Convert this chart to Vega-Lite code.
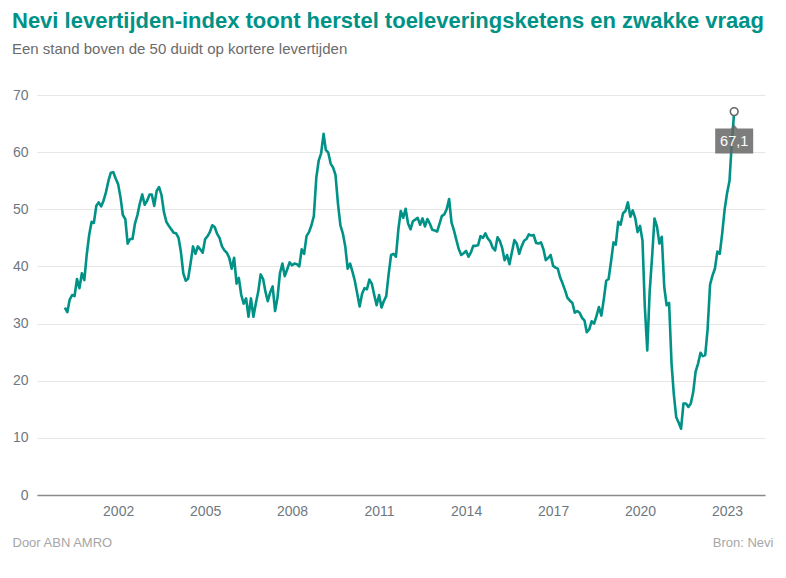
{
"$schema": "https://vega.github.io/schema/vega-lite/v6.json",
"autosize": {"type": "none"},
"width": 728,
"height": 400,
"padding": {"left": 37, "top": 95, "right": 21, "bottom": 83},
"background": "white",
"config": {
  "view": {"stroke": null},
  "font": "Liberation Sans",
  "locale": {"number": {"decimal": ",", "thousands": ".", "grouping": [3], "currency": ["€", ""]}}
},
"title": {
  "text": "Nevi levertijden-index toont herstel toeleveringsketens en zwakke vraag",
  "subtitle": "Een stand boven de 50 duidt op kortere levertijden",
  "anchor": "start",
  "frame": "group",
  "dx": -25,
  "offset": 30,
  "color": "#009286",
  "font": "Liberation Sans",
  "fontSize": 22,
  "fontWeight": "bold",
  "subtitleFont": "Liberation Sans",
  "subtitleColor": "#6b6b6b",
  "subtitleFontSize": 15,
  "subtitlePadding": 9
},
"data": {"values": [
{"date":"2000-03-01","value":32.8},{"date":"2000-04-01","value":32.0},{"date":"2000-05-01","value":34.2},{"date":"2000-06-01","value":35.0},{"date":"2000-07-01","value":34.8},{"date":"2000-08-01","value":37.8},{"date":"2000-09-01","value":36.2},{"date":"2000-10-01","value":38.8},{"date":"2000-11-01","value":37.6},{"date":"2000-12-01","value":42.0},
{"date":"2001-01-01","value":45.5},{"date":"2001-02-01","value":47.8},{"date":"2001-03-01","value":47.6},{"date":"2001-04-01","value":50.6},{"date":"2001-05-01","value":51.2},{"date":"2001-06-01","value":50.5},{"date":"2001-07-01","value":51.5},{"date":"2001-08-01","value":53.0},{"date":"2001-09-01","value":55.0},{"date":"2001-10-01","value":56.4},{"date":"2001-11-01","value":56.5},{"date":"2001-12-01","value":55.4},
{"date":"2002-01-01","value":54.4},{"date":"2002-02-01","value":52.0},{"date":"2002-03-01","value":49.0},{"date":"2002-04-01","value":48.3},{"date":"2002-05-01","value":44.0},{"date":"2002-06-01","value":44.8},{"date":"2002-07-01","value":44.8},{"date":"2002-08-01","value":47.5},{"date":"2002-09-01","value":49.0},{"date":"2002-10-01","value":51.0},{"date":"2002-11-01","value":52.6},{"date":"2002-12-01","value":50.8},
{"date":"2003-01-01","value":51.5},{"date":"2003-02-01","value":52.6},{"date":"2003-03-01","value":52.6},{"date":"2003-04-01","value":50.6},{"date":"2003-05-01","value":53.2},{"date":"2003-06-01","value":53.9},{"date":"2003-07-01","value":52.5},{"date":"2003-08-01","value":49.5},{"date":"2003-09-01","value":47.8},{"date":"2003-10-01","value":47.1},{"date":"2003-11-01","value":46.5},{"date":"2003-12-01","value":45.9},
{"date":"2004-01-01","value":45.8},{"date":"2004-02-01","value":45.0},{"date":"2004-03-01","value":42.6},{"date":"2004-04-01","value":38.8},{"date":"2004-05-01","value":37.5},{"date":"2004-06-01","value":37.9},{"date":"2004-07-01","value":40.5},{"date":"2004-08-01","value":43.5},{"date":"2004-09-01","value":42.2},{"date":"2004-10-01","value":43.5},{"date":"2004-11-01","value":43.0},{"date":"2004-12-01","value":42.4},
{"date":"2005-01-01","value":44.8},{"date":"2005-02-01","value":45.3},{"date":"2005-03-01","value":46.0},{"date":"2005-04-01","value":47.2},{"date":"2005-05-01","value":46.9},{"date":"2005-06-01","value":45.7},{"date":"2005-07-01","value":45.0},{"date":"2005-08-01","value":43.5},{"date":"2005-09-01","value":42.8},{"date":"2005-10-01","value":42.4},{"date":"2005-11-01","value":41.5},{"date":"2005-12-01","value":39.6},
{"date":"2006-01-01","value":41.5},{"date":"2006-02-01","value":37.0},{"date":"2006-03-01","value":38.0},{"date":"2006-04-01","value":35.0},{"date":"2006-05-01","value":33.5},{"date":"2006-06-01","value":34.4},{"date":"2006-07-01","value":31.2},{"date":"2006-08-01","value":34.4},{"date":"2006-09-01","value":31.2},{"date":"2006-10-01","value":33.5},{"date":"2006-11-01","value":35.6},{"date":"2006-12-01","value":38.6},
{"date":"2007-01-01","value":37.8},{"date":"2007-02-01","value":35.5},{"date":"2007-03-01","value":33.9},{"date":"2007-04-01","value":35.5},{"date":"2007-05-01","value":36.5},{"date":"2007-06-01","value":32.2},{"date":"2007-07-01","value":34.5},{"date":"2007-08-01","value":38.8},{"date":"2007-09-01","value":40.5},{"date":"2007-10-01","value":38.3},{"date":"2007-11-01","value":39.5},{"date":"2007-12-01","value":40.7},
{"date":"2008-01-01","value":40.2},{"date":"2008-02-01","value":40.5},{"date":"2008-03-01","value":40.4},{"date":"2008-04-01","value":40.0},{"date":"2008-05-01","value":43.0},{"date":"2008-06-01","value":42.2},{"date":"2008-07-01","value":45.3},{"date":"2008-08-01","value":46.0},{"date":"2008-09-01","value":47.2},{"date":"2008-10-01","value":48.8},{"date":"2008-11-01","value":55.5},{"date":"2008-12-01","value":58.5},
{"date":"2009-01-01","value":59.8},{"date":"2009-02-01","value":63.2},{"date":"2009-03-01","value":60.4},{"date":"2009-04-01","value":59.9},{"date":"2009-05-01","value":58.0},{"date":"2009-06-01","value":57.3},{"date":"2009-07-01","value":56.0},{"date":"2009-08-01","value":51.0},{"date":"2009-09-01","value":47.2},{"date":"2009-10-01","value":45.8},{"date":"2009-11-01","value":43.5},{"date":"2009-12-01","value":39.6},
{"date":"2010-01-01","value":40.5},{"date":"2010-02-01","value":39.0},{"date":"2010-03-01","value":37.5},{"date":"2010-04-01","value":35.2},{"date":"2010-05-01","value":33.0},{"date":"2010-06-01","value":35.2},{"date":"2010-07-01","value":36.2},{"date":"2010-08-01","value":36.0},{"date":"2010-09-01","value":37.7},{"date":"2010-10-01","value":37.0},{"date":"2010-11-01","value":35.0},{"date":"2010-12-01","value":33.2},
{"date":"2011-01-01","value":35.0},{"date":"2011-02-01","value":32.8},{"date":"2011-03-01","value":33.9},{"date":"2011-04-01","value":34.8},{"date":"2011-05-01","value":38.6},{"date":"2011-06-01","value":42.0},{"date":"2011-07-01","value":42.2},{"date":"2011-08-01","value":41.7},{"date":"2011-09-01","value":46.5},{"date":"2011-10-01","value":49.7},{"date":"2011-11-01","value":48.5},{"date":"2011-12-01","value":50.1},
{"date":"2012-01-01","value":47.5},{"date":"2012-02-01","value":46.5},{"date":"2012-03-01","value":47.9},{"date":"2012-04-01","value":48.2},{"date":"2012-05-01","value":48.5},{"date":"2012-06-01","value":47.3},{"date":"2012-07-01","value":48.4},{"date":"2012-08-01","value":47.0},{"date":"2012-09-01","value":48.3},{"date":"2012-10-01","value":47.5},{"date":"2012-11-01","value":46.4},{"date":"2012-12-01","value":46.3},
{"date":"2013-01-01","value":46.1},{"date":"2013-02-01","value":47.5},{"date":"2013-03-01","value":48.8},{"date":"2013-04-01","value":49.1},{"date":"2013-05-01","value":50.0},{"date":"2013-06-01","value":51.8},{"date":"2013-07-01","value":47.7},{"date":"2013-08-01","value":46.3},{"date":"2013-09-01","value":44.6},{"date":"2013-10-01","value":43.0},{"date":"2013-11-01","value":42.0},{"date":"2013-12-01","value":42.3},
{"date":"2014-01-01","value":42.7},{"date":"2014-02-01","value":41.7},{"date":"2014-03-01","value":42.4},{"date":"2014-04-01","value":43.6},{"date":"2014-05-01","value":43.6},{"date":"2014-06-01","value":43.7},{"date":"2014-07-01","value":45.3},{"date":"2014-08-01","value":45.0},{"date":"2014-09-01","value":45.8},{"date":"2014-10-01","value":44.9},{"date":"2014-11-01","value":44.4},{"date":"2014-12-01","value":43.3},
{"date":"2015-01-01","value":42.8},{"date":"2015-02-01","value":45.1},{"date":"2015-03-01","value":44.5},{"date":"2015-04-01","value":43.2},{"date":"2015-05-01","value":41.1},{"date":"2015-06-01","value":42.0},{"date":"2015-07-01","value":40.4},{"date":"2015-08-01","value":42.5},{"date":"2015-09-01","value":44.6},{"date":"2015-10-01","value":44.0},{"date":"2015-11-01","value":42.2},{"date":"2015-12-01","value":43.5},
{"date":"2016-01-01","value":44.5},{"date":"2016-02-01","value":44.8},{"date":"2016-03-01","value":45.6},{"date":"2016-04-01","value":45.4},{"date":"2016-05-01","value":45.5},{"date":"2016-06-01","value":44.1},{"date":"2016-07-01","value":44.0},{"date":"2016-08-01","value":44.2},{"date":"2016-09-01","value":43.0},{"date":"2016-10-01","value":41.1},{"date":"2016-11-01","value":41.5},{"date":"2016-12-01","value":42.0},
{"date":"2017-01-01","value":40.1},{"date":"2017-02-01","value":39.8},{"date":"2017-03-01","value":39.6},{"date":"2017-04-01","value":38.0},{"date":"2017-05-01","value":37.0},{"date":"2017-06-01","value":35.8},{"date":"2017-07-01","value":34.5},{"date":"2017-08-01","value":34.0},{"date":"2017-09-01","value":33.6},{"date":"2017-10-01","value":31.9},{"date":"2017-11-01","value":32.2},{"date":"2017-12-01","value":31.9},
{"date":"2018-01-01","value":31.0},{"date":"2018-02-01","value":30.5},{"date":"2018-03-01","value":28.5},{"date":"2018-04-01","value":29.0},{"date":"2018-05-01","value":30.4},{"date":"2018-06-01","value":30.0},{"date":"2018-07-01","value":31.3},{"date":"2018-08-01","value":32.9},{"date":"2018-09-01","value":31.4},{"date":"2018-10-01","value":34.2},{"date":"2018-11-01","value":37.5},{"date":"2018-12-01","value":37.8},
{"date":"2019-01-01","value":40.9},{"date":"2019-02-01","value":44.2},{"date":"2019-03-01","value":43.8},{"date":"2019-04-01","value":47.8},{"date":"2019-05-01","value":47.3},{"date":"2019-06-01","value":49.3},{"date":"2019-07-01","value":49.7},{"date":"2019-08-01","value":51.2},{"date":"2019-09-01","value":48.7},{"date":"2019-10-01","value":49.8},{"date":"2019-11-01","value":48.5},{"date":"2019-12-01","value":46.0},
{"date":"2020-01-01","value":47.1},{"date":"2020-02-01","value":44.5},{"date":"2020-03-01","value":33.0},{"date":"2020-04-01","value":25.3},{"date":"2020-05-01","value":35.5},{"date":"2020-06-01","value":41.7},{"date":"2020-07-01","value":48.4},{"date":"2020-08-01","value":47.0},{"date":"2020-09-01","value":44.0},{"date":"2020-10-01","value":45.2},{"date":"2020-11-01","value":36.4},{"date":"2020-12-01","value":33.2},
{"date":"2021-01-01","value":33.6},{"date":"2021-02-01","value":23.0},{"date":"2021-03-01","value":17.7},{"date":"2021-04-01","value":13.6},{"date":"2021-05-01","value":12.7},{"date":"2021-06-01","value":11.6},{"date":"2021-07-01","value":16.0},{"date":"2021-08-01","value":16.0},{"date":"2021-09-01","value":15.4},{"date":"2021-10-01","value":16.0},{"date":"2021-11-01","value":18.0},{"date":"2021-12-01","value":21.6},
{"date":"2022-01-01","value":23.0},{"date":"2022-02-01","value":24.9},{"date":"2022-03-01","value":24.3},{"date":"2022-04-01","value":24.5},{"date":"2022-05-01","value":29.0},{"date":"2022-06-01","value":36.8},{"date":"2022-07-01","value":38.4},{"date":"2022-08-01","value":39.6},{"date":"2022-09-01","value":42.6},{"date":"2022-10-01","value":42.2},{"date":"2022-11-01","value":45.8},{"date":"2022-12-01","value":49.9},
{"date":"2023-01-01","value":52.8},{"date":"2023-02-01","value":55.0},{"date":"2023-03-01","value":61.5},{"date":"2023-04-01","value":67.1}
]},
"encoding": {
  "x": {
    "field": "date", "type": "temporal",
    "scale": {"type": "utc", "domain": [{"year": 1999, "month": 3, "date": 16, "utc": true}, {"year": 2024, "month": 4, "date": 23, "utc": true}]},
    "axis": {
      "values": [{"year": 2002, "month": 1, "date": 1, "utc": true}, {"year": 2005, "month": 1, "date": 1, "utc": true}, {"year": 2008, "month": 1, "date": 1, "utc": true}, {"year": 2011, "month": 1, "date": 1, "utc": true}, {"year": 2014, "month": 1, "date": 1, "utc": true}, {"year": 2017, "month": 1, "date": 1, "utc": true}, {"year": 2020, "month": 1, "date": 1, "utc": true}, {"year": 2023, "month": 1, "date": 1, "utc": true}],
      "format": "%Y",
      "grid": false,
      "ticks": false,
      "domain": true,
      "domainColor": "#8a8a8a",
      "domainWidth": 1.5,
      "labelColor": "#6f7780",
      "labelFont": "Liberation Sans",
      "labelFontSize": 14,
      "labelPadding": 9,
      "title": "Door ABN AMRO",
      "titleColor": "#a6a6a6",
      "titleFont": "Liberation Sans",
      "titleFontSize": 13,
      "titleFontWeight": "normal",
      "titleAlign": "left",
      "titleBaseline": "alphabetic",
      "titleX": -25,
      "titleY": 51
    }
  }
},
"layer": [
  {
    "mark": {"type": "line", "color": "#009286", "strokeWidth": 2.6, "strokeJoin": "round"},
    "encoding": {
      "y": {
        "field": "value", "type": "quantitative",
        "scale": {"domain": [0, 70], "nice": false},
        "axis": {
          "values": [0, 10, 20, 30, 40, 50, 60, 70],
          "grid": true,
          "gridColor": "#e6e6e6",
          "gridWidth": 1,
          "ticks": false,
          "domain": false,
          "labelColor": "#6f7780",
          "labelFont": "Liberation Sans",
          "labelFontSize": 14,
          "labelPadding": 9,
          "title": null
        }
      }
    }
  },
  {
    "transform": [{"filter": "datum.value == 67.1"}],
    "encoding": {
      "y": {
        "field": "value", "type": "quantitative",
        "scale": {"domain": [0, 70], "nice": false},
        "axis": {
          "orient": "right",
          "labels": false,
          "ticks": false,
          "domain": false,
          "grid": false,
          "title": "Bron: Nevi",
          "titleAngle": 0,
          "titleAlign": "right",
          "titleBaseline": "alphabetic",
          "titleX": 8,
          "titleY": 451,
          "titleColor": "#a6a6a6",
          "titleFont": "Liberation Sans",
          "titleFontSize": 13,
          "titleFontWeight": "normal"
        }
      }
    },
    "layer": [
      {"mark": {"type": "point", "shape": "M-1,-0.66 L-0.17,-0.66 L0,-0.86 L0.17,-0.66 L1,-0.66 L1,0.66 L-1,0.66 Z", "size": 1444, "filled": true, "color": "#666666", "opacity": 0.85, "strokeWidth": 0, "yOffset": 29.5}},
      {"mark": {"type": "text", "color": "white", "font": "Liberation Sans", "fontSize": 14.5, "baseline": "middle", "align": "center", "yOffset": 30.5},
       "encoding": {"text": {"field": "value", "type": "quantitative", "format": ".1f"}}},
      {"mark": {"type": "point", "filled": true, "fill": "white", "stroke": "#666666", "strokeWidth": 1.6, "opacity": 1, "size": 60}}
    ]
  }
],
"resolve": {"scale": {"y": "independent"}}
}
